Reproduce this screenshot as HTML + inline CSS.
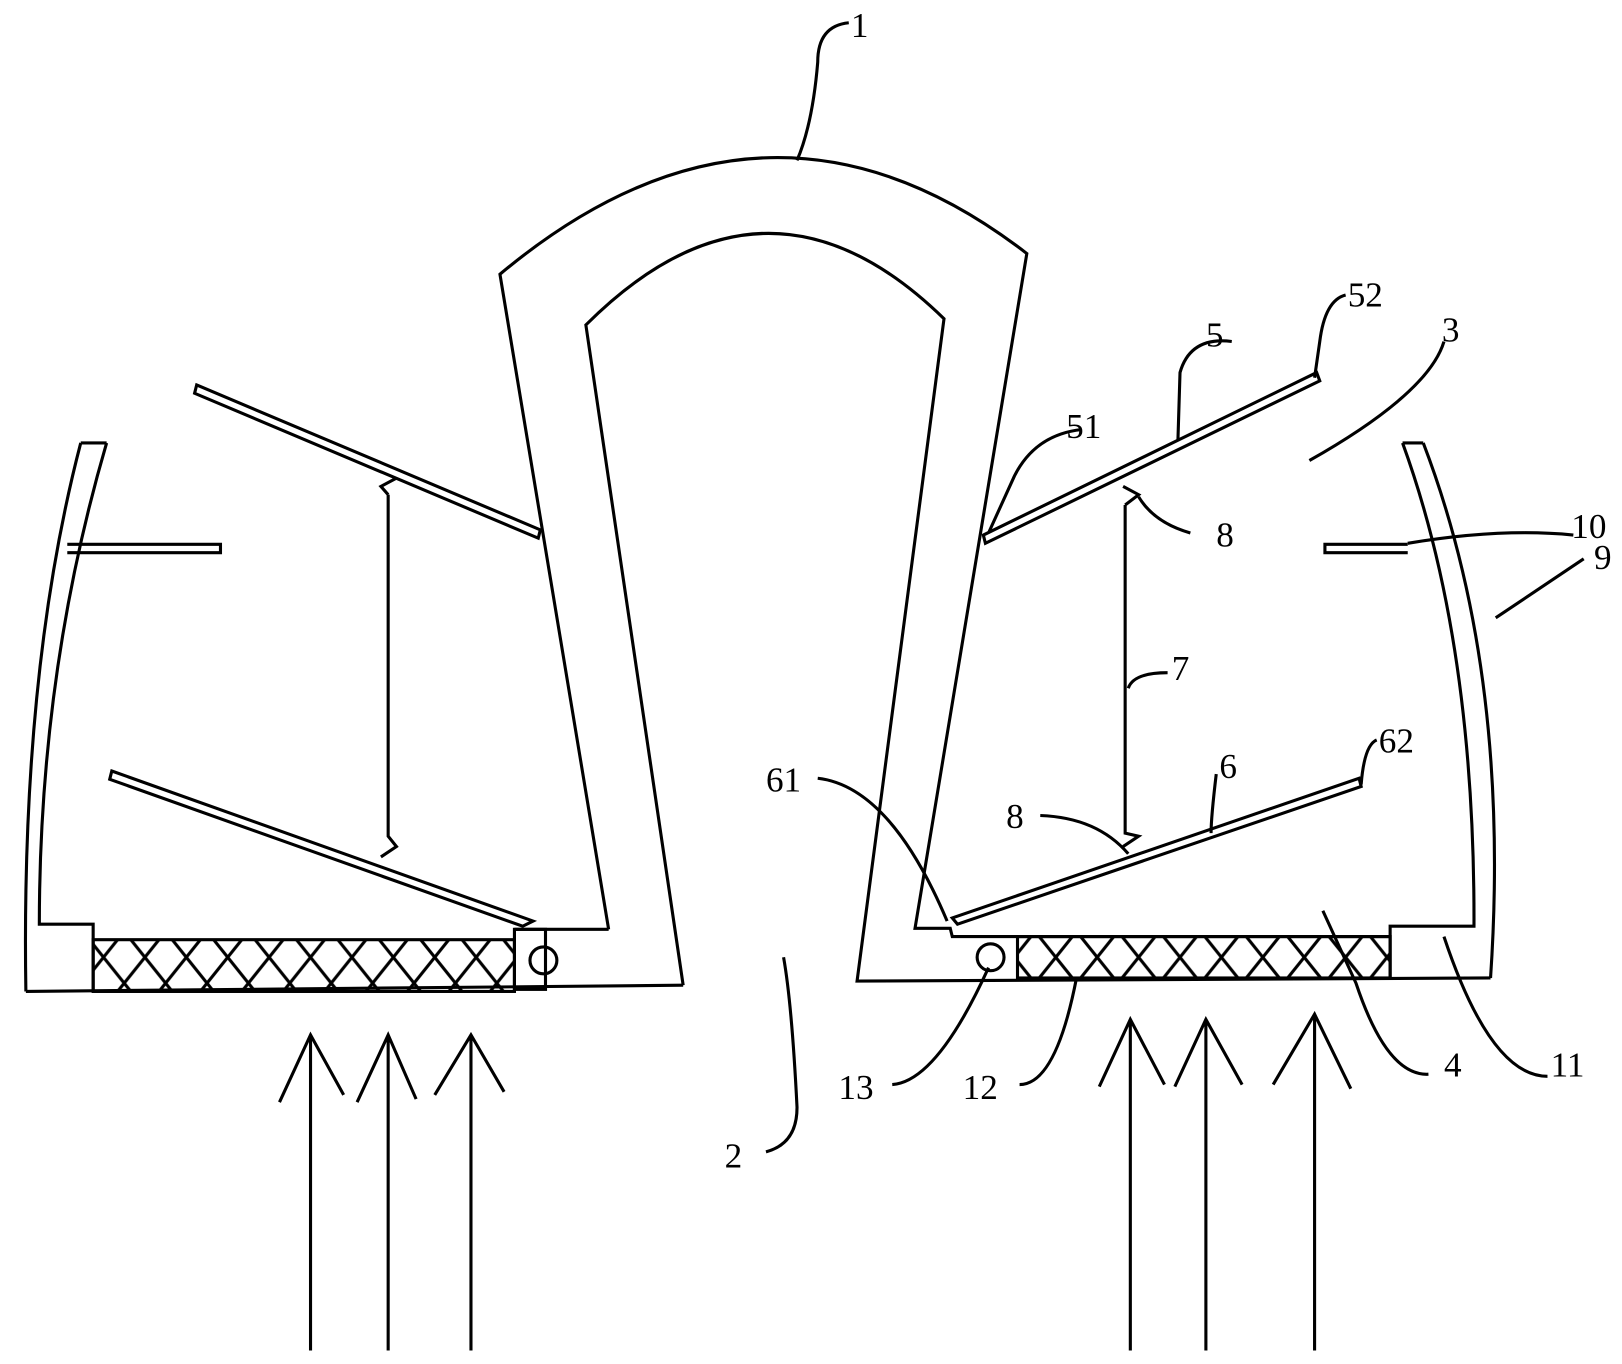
<!DOCTYPE html>
<html><head><style>html,body{margin:0;padding:0;background:#fff}svg{display:block}</style></head><body>
<svg width="1622" height="1364" viewBox="0 0 1567 1318" preserveAspectRatio="none" xmlns="http://www.w3.org/2000/svg" font-family="'Liberation Serif',serif" font-size="34">
<defs><pattern id="x" width="40" height="50" patternUnits="userSpaceOnUse"><path d="M0 0L40 50M40 0L0 50" stroke="#000" stroke-width="3"/></pattern></defs>
<g fill="none" stroke="#000" stroke-width="3">
<!-- part 1 -->
<path d="M588 898 L483 265 Q740 50 992 245 L884 897 L918 897 L920 905 L1343 905"/>
<path d="M660 952 L566 314 Q740 140 912 308 L828 948 L1440 945"/>
<path d="M25 958 L660 952"/>
<path d="M497 898 L588 898"/>
<!-- left wall -->
<path d="M78 428 Q20 650 25 958"/>
<path d="M103 428 Q38 650 38 893 L90 893 L90 958"/>
<path d="M78 428 L103 428"/>
<rect x="90" y="908" width="407" height="50" fill="url(#x)"/>
<rect x="497" y="898" width="30" height="58"/>
<circle cx="525" cy="928" r="13"/>
<!-- right wall -->
<path d="M1355 428 Q1425 620 1424 895 L1343 895 L1343 945"/>
<path d="M1375 428 Q1460 650 1440 945"/>
<path d="M1355 428 L1375 428"/>
<rect x="983" y="905" width="360" height="40" fill="url(#x)"/>
<circle cx="957" cy="925" r="13"/>
<!-- plates -->
<path d="M190 372 L522 512 L520 520 L188 380 Z"/>
<path d="M108 745 L515 890 L505 895 L106 753 Z"/>
<path d="M950 517 L1272 360 L1275 368 L952 525 Z"/>
<path d="M920 887 L1313 752 L1315 760 L925 893 Z"/>
<!-- bars 10 -->
<path d="M65 526 L213 526 L213 534 L65 534"/>
<path d="M1360 526 L1280 526 L1280 534 L1360 534"/>
<!-- springs -->
<path d="M375 478 L368 470 L383 462 M375 478 L375 808 L383 818 L368 828"/>
<path d="M1087 488 L1100 478 L1085 470 M1087 488 L1087 805 L1100 808 L1085 818"/>
<!-- arrows -->
<g stroke-width="3">
<path d="M300 1305 V1000 M270 1065 L300 1000 L332 1058"/>
<path d="M375 1305 V1000 M345 1065 L375 1000 L402 1062"/>
<path d="M455 1305 V1000 M420 1058 L455 1000 L487 1055"/>
<path d="M1092 1305 V985 M1062 1050 L1092 985 L1125 1048"/>
<path d="M1165 1305 V985 M1135 1050 L1165 985 L1200 1048"/>
<path d="M1270 1305 V980 M1230 1048 L1270 980 L1305 1052"/>
</g>
<!-- leaders -->
<path d="M820 22 Q790 25 790 60 Q785 120 770 155"/>
<path d="M1190 330 Q1150 325 1140 360 L1138 425"/>
<path d="M1300 285 Q1280 290 1275 330 L1270 365"/>
<path d="M1045 415 Q1000 420 980 460 L955 515"/>
<path d="M1395 330 Q1380 380 1265 445"/>
<path d="M1150 515 Q1115 505 1100 480"/>
<path d="M1520 517 Q1450 510 1360 525"/>
<path d="M1530 540 Q1500 560 1445 597"/>
<path d="M1128 650 Q1095 650 1090 665"/>
<path d="M1330 715 Q1318 720 1315 758"/>
<path d="M1175 748 Q1170 790 1170 805"/>
<path d="M1005 788 Q1060 790 1090 825"/>
<path d="M790 752 Q860 760 915 890"/>
<path d="M1380 1038 Q1340 1040 1310 950 L1278 880"/>
<path d="M1495 1040 Q1440 1040 1395 905"/>
<path d="M862 1048 Q905 1045 955 935"/>
<path d="M985 1048 Q1020 1048 1040 945"/>
<path d="M740 1113 Q770 1105 770 1070 Q765 970 757 925"/>
</g>
<g fill="#000">
<text x="822" y="36">1</text>
<text x="1165" y="335">5</text>
<text x="1302" y="296">52</text>
<text x="1393" y="330">3</text>
<text x="1030" y="423">51</text>
<text x="1175" y="528">8</text>
<text x="1518" y="520">10</text>
<text x="1540" y="550">9</text>
<text x="1132" y="657">7</text>
<text x="1332" y="727">62</text>
<text x="1178" y="752">6</text>
<text x="740" y="765">61</text>
<text x="972" y="800">8</text>
<text x="1395" y="1040">4</text>
<text x="1498" y="1040">11</text>
<text x="810" y="1062">13</text>
<text x="930" y="1062">12</text>
<text x="700" y="1128">2</text>
</g>
</svg>
</body></html>
